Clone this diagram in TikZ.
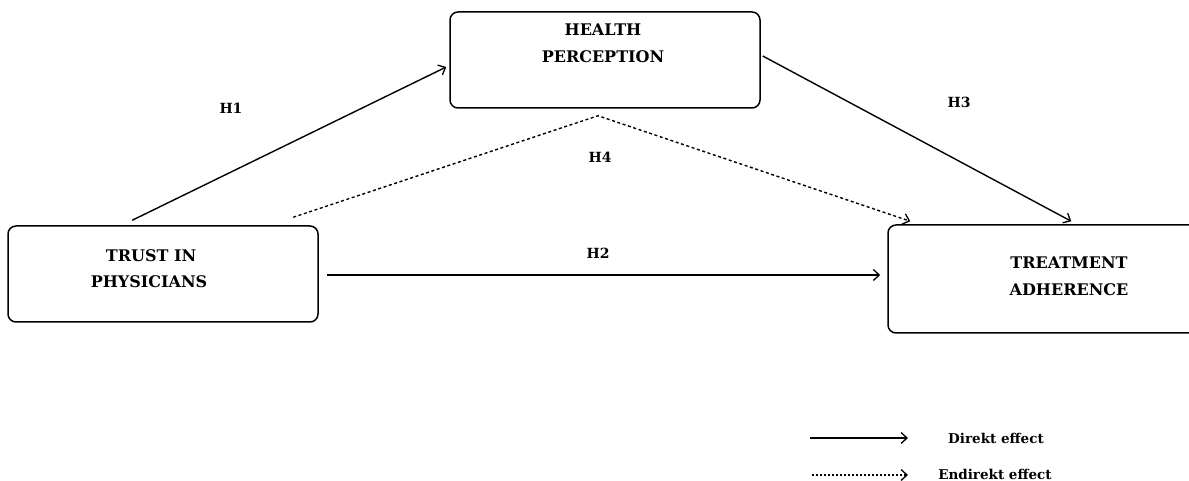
\documentclass[tikz,border=0pt]{standalone}
\usepackage{fontspec}
\setmainfont{DejaVu Serif}
\usetikzlibrary{arrows.meta,calc}
\begin{document}
\begin{tikzpicture}[x=1pt,y=1pt,
  box/.style={draw=black,line width=1.5pt,rounded corners=8pt,minimum width=310pt,minimum height=96pt,inner sep=0pt},
  lbl/.style={font=\fontsize{16}{19}\selectfont\bfseries,inner sep=0pt},
  hlbl/.style={font=\fontsize{14}{17}\selectfont\bfseries,inner sep=0pt},
  leg/.style={font=\fontsize{13.5}{16}\selectfont\bfseries,inner sep=0pt},
  conn/.style={line width=1.4pt,-{Straight Barb[length=6pt,width=11pt,line width=1.3pt]}},
  dconn/.style={conn,dash pattern=on 3pt off 2.6pt},
]
\useasboundingbox (0,0) rectangle (1189,481);
% boxes
\node[box] (hp) at (605,421) {};
\node[box] (tp) at (163,207) {};
\node[box,minimum width=312pt,minimum height=108pt] (ta) at (1044,202) {};
% box texts
\node[lbl] (hp1) at (603,451) {HEALTH};
\node[lbl] (hp2) at (603,424) {PERCEPTION};
\node[lbl] (tp1) at (151,225) {TRUST IN};
\node[lbl] (tp2) at (149,199) {PHYSICIANS};
\node[lbl] (ta1) at (1069,218) {TREATMENT};
\node[lbl] (ta2) at (1069,191) {ADHERENCE};
% connectors
\draw[conn] ($(tp.north west)+(125,5)$) -- ($(hp.west)+(-3,-7)$);
\draw[conn] ($(hp.east)+(2,4)$) -- ($(ta.north west)+(184,3)$);
\draw[conn] ($(tp.east)+(8,-1)$) -- ($(ta.west)+(-7,4)$);
\draw[dconn] ($(tp.north west)+(286,8)$) -- ($(hp.south)+(-7,-7)$) -- ($(ta.north west)+(23,3)$);
% hypothesis labels
\node[hlbl] (h1) at (231,373) {H1};
\node[hlbl] (h3) at (959,379) {H3};
\node[hlbl] (h4) at (600,324) {H4};
\node[hlbl] (h2) at (598,228) {H2};
% legend
\coordinate (l1a) at (810,43);
\coordinate (l1b) at (908,43);
\coordinate (l2a) at (812,6);
\coordinate (l2b) at (908,6);
\draw[conn] (l1a) -- (l1b);
\draw[conn,dash pattern=on 2pt off 2pt] (l2a) -- (l2b);
\node[leg] (dl) at (996,43) {Direkt effect};
\node[leg] (el) at (995,7) {Endirekt effect};
\end{tikzpicture}
\end{document}
